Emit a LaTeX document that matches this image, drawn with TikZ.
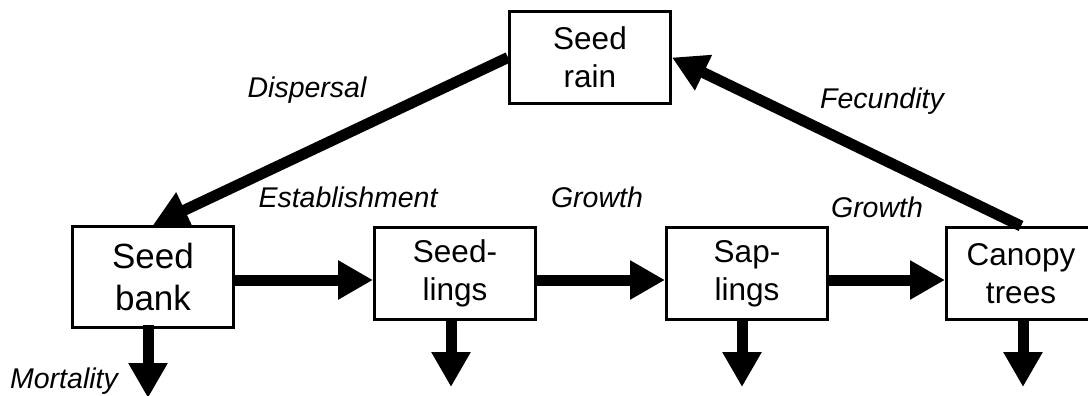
\documentclass[tikz,border=0pt]{standalone}
\usepackage{fontspec}
\setmainfont{Liberation Sans}
\usetikzlibrary{arrows.meta}
\tikzset{
  box/.style={draw, line width=3pt, inner sep=0pt, align=center,
    minimum width=161pt, minimum height=92pt,
    font=\fontsize{31.5}{38}\selectfont},
  arr/.style={line width=11pt, -{Triangle[length=35pt,width=37pt]}},
  lbl/.style={anchor=base, inner sep=0pt, font=\fontsize{28.5}{34}\selectfont\itshape}
}
\begin{document}
\begin{tikzpicture}[x=1pt,y=-1pt]
\useasboundingbox (0,0) rectangle (1088,396);
\clip (0,0) rectangle (1088,396);
% boxes
\node[box] (rain) at (590,57.5) {Seed\\rain};
\node[box, minimum height=101pt, font=\fontsize{35}{42}\selectfont] (bank) at (153,277) {Seed\\bank};
\node[box] (seedl) at (455,273.5) {Seed-\\lings};
\node[box] (sapl) at (747,273.5) {Sap-\\lings};
\node[box, minimum width=149pt] (canopy) at (1021,273.5) {Canopy\\trees};
% mortality tips
\coordinate (m1) at (148,398);
\coordinate (m2) at (451,387);
\coordinate (m3) at (742,387);
\coordinate (m4) at (1023,387);
% connectors
\draw[arr] (rain.west) -- (bank.north);
\draw[arr] (canopy.north) -- (rain.east);
\draw[arr] (bank.east |- 0,280) -- (seedl.west |- 0,280);
\draw[arr] (seedl.east |- 0,280) -- (sapl.west |- 0,280);
\draw[arr] (sapl.east |- 0,280) -- (canopy.west |- 0,280);
\draw[arr] ([yshift=4pt]bank.south -| m1) -- (m1);
\draw[arr] ([yshift=1pt]seedl.south -| m2) -- (m2);
\draw[arr] ([yshift=1pt]sapl.south -| m3) -- (m3);
\draw[arr] ([yshift=1pt]canopy.south -| m4) -- (m4);
% labels
\node[lbl] (ldisp) at (307,98) {Dispersal};
\node[lbl] (lfec) at (882,109) {Fecundity};
\node[lbl] (lest) at (348,207) {Establishment};
\node[lbl] (lg1) at (597,207) {Growth};
\node[lbl] (lg2) at (877,217) {Growth};
\node[lbl] (lmort) at (64,388) {Mortality};
\end{tikzpicture}
\end{document}
